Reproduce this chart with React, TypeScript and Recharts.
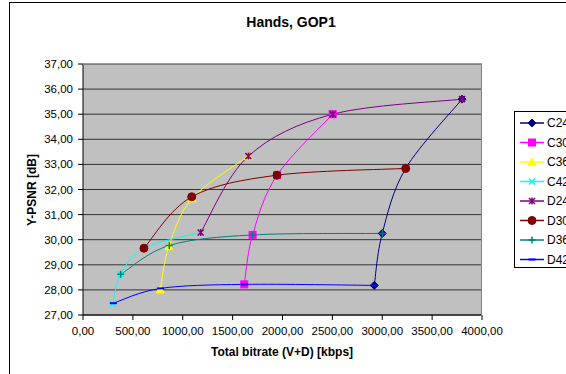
import React from "react";
import { LineChart, Line, XAxis, YAxis, CartesianGrid } from "recharts";

// rate (kbps) / Y-PSNR (dB) points
const C24 = [
  { x: 2920, y: 28.18 },
  { x: 3000, y: 30.25 },
  { x: 3235, y: 32.84 },
  { x: 3800, y: 35.6 },
];
const C30 = [
  { x: 1617, y: 28.22 },
  { x: 1700, y: 30.19 },
  { x: 1945, y: 32.57 },
  { x: 2503, y: 35.0 },
];
const C36 = [
  { x: 775, y: 28.02 },
  { x: 862, y: 29.74 },
  { x: 1095, y: 31.65 },
  { x: 1658, y: 33.33 },
];
const C42 = [
  { x: 298, y: 27.45 },
  { x: 378, y: 28.62 },
  { x: 611, y: 29.66 },
  { x: 1180, y: 30.29 },
];
const D24 = [
  { x: 1180, y: 30.29 },
  { x: 1658, y: 33.33 },
  { x: 2503, y: 35.0 },
  { x: 3800, y: 35.6 },
];
const D30 = [
  { x: 611, y: 29.66 },
  { x: 1090, y: 31.71 },
  { x: 1945, y: 32.57 },
  { x: 3235, y: 32.84 },
];
const D36 = [
  { x: 378, y: 28.62 },
  { x: 865, y: 29.77 },
  { x: 1700, y: 30.19 },
  { x: 3002, y: 30.25 },
];
const D42 = [
  { x: 304, y: 27.47 },
  { x: 779, y: 28.06 },
  { x: 1617, y: 28.22 },
  { x: 2920, y: 28.18 },
];

const X_TICKS = [0, 500, 1000, 1500, 2000, 2500, 3000, 3500, 4000];
const Y_TICKS = [27, 28, 29, 30, 31, 32, 33, 34, 35, 36, 37];

type Shape = "diamond" | "square" | "triangle" | "x" | "star" | "circle" | "plus" | "dash";

const SERIES: { name: string; data: { x: number; y: number }[]; color: string; shape: Shape }[] = [
  { name: "C24", data: C24, color: "#000080", shape: "diamond" },
  { name: "C30", data: C30, color: "#FF00FF", shape: "square" },
  { name: "C36", data: C36, color: "#FFFF00", shape: "triangle" },
  { name: "C42", data: C42, color: "#00FFFF", shape: "x" },
  { name: "D24", data: D24, color: "#800080", shape: "star" },
  { name: "D30", data: D30, color: "#800000", shape: "circle" },
  { name: "D36", data: D36, color: "#008080", shape: "plus" },
  { name: "D42", data: D42, color: "#0000FF", shape: "dash" },
];

const FONT = "'Liberation Sans', Arial, sans-serif";
const fmt = (v: number) => v.toFixed(2).replace(".", ",");

// Excel-like smoothed line: parametric Catmull-Rom through the points
const smoothCurve = (context: any) => {
  let pts: [number, number][] = [];
  return {
    areaStart() {},
    areaEnd() {},
    lineStart() {
      pts = [];
    },
    lineEnd() {
      if (!pts.length) return;
      context.moveTo(pts[0][0], pts[0][1]);
      for (let i = 0; i < pts.length - 1; i++) {
        const p0 = pts[Math.max(0, i - 1)];
        const p1 = pts[i];
        const p2 = pts[i + 1];
        const p3 = pts[Math.min(pts.length - 1, i + 2)];
        context.bezierCurveTo(
          p1[0] + (p2[0] - p0[0]) / 6,
          p1[1] + (p2[1] - p0[1]) / 6,
          p2[0] - (p3[0] - p1[0]) / 6,
          p2[1] - (p3[1] - p1[1]) / 6,
          p2[0],
          p2[1]
        );
      }
    },
    point(x: number, y: number) {
      pts.push([+x, +y]);
    },
  };
};

function marker(shape: Shape, color: string, cx: number, cy: number, key?: string) {
  switch (shape) {
    case "diamond":
      return (
        <polygon key={key} points={`${cx},${cy - 4} ${cx + 4},${cy} ${cx},${cy + 4} ${cx - 4},${cy}`} fill={color} stroke={color} />
      );
    case "square":
      return <rect key={key} x={cx - 3.5} y={cy - 3.5} width={7} height={7} fill={color} stroke={color} />;
    case "triangle":
      return (
        <polygon key={key} points={`${cx},${cy - 4} ${cx + 4},${cy + 3.5} ${cx - 4},${cy + 3.5}`} fill={color} stroke={color} />
      );
    case "x":
      return (
        <path key={key} d={`M${cx - 3},${cy - 3}L${cx + 3},${cy + 3}M${cx - 3},${cy + 3}L${cx + 3},${cy - 3}`} stroke={color} strokeWidth={1.5} fill="none" />
      );
    case "star":
      return (
        <path
          key={key}
          d={`M${cx - 3},${cy - 3}L${cx + 3},${cy + 3}M${cx - 3},${cy + 3}L${cx + 3},${cy - 3}M${cx},${cy - 3.5}L${cx},${cy + 3.5}`}
          stroke={color}
          strokeWidth={1.5}
          fill="none"
        />
      );
    case "circle":
      return <circle key={key} cx={cx} cy={cy} r={4} fill={color} stroke={color} />;
    case "plus":
      return (
        <path key={key} d={`M${cx - 3.5},${cy}L${cx + 3.5},${cy}M${cx},${cy - 3.5}L${cx},${cy + 3.5}`} stroke={color} strokeWidth={1.5} fill="none" />
      );
    case "dash":
    default:
      return <path key={key} d={`M${cx - 3.5},${cy}L${cx + 3.5},${cy}`} stroke={color} strokeWidth={2} fill="none" />;
  }
}

function LegendBox() {
  return (
    <div
      style={{
        position: "absolute",
        left: 514,
        top: 111,
        width: 80,
        height: 155,
        border: "1px solid #000",
        background: "#fff",
      }}
    >
      <svg width={80} height={155}>
        {SERIES.map((s, i) => {
          const cy = 11 + i * 19.5;
          return (
            <g key={s.name}>
              <line x1={5} x2={29} y1={cy} y2={cy} stroke={s.color} strokeWidth={1.5} />
              {marker(s.shape, s.color, 17, cy)}
              <text x={32} y={cy + 4} fontSize={12} fontFamily={FONT} fill="#000">
                {s.name}
              </text>
            </g>
          );
        })}
      </svg>
    </div>
  );
}

export default function App() {
  return (
    <div
      style={{
        position: "absolute",
        left: 0,
        top: 0,
        width: 566,
        height: 374,
        overflow: "hidden",
        background: "#fff",
        fontFamily: FONT,
      }}
    >
      <div
        style={{
          position: "absolute",
          left: 9,
          top: 2,
          width: 640,
          height: 390,
          border: "1px solid #000",
        }}
      />
      <div style={{ position: "absolute", left: 0, top: 0 }}>
        <LineChart width={620} height={374} margin={{ top: 64, right: 138, bottom: 29, left: 33 }}>
          <CartesianGrid horizontal vertical={false} fill="#C0C0C0" stroke="#333" strokeWidth={1} />
          <XAxis
            type="number"
            dataKey="x"
            domain={[0, 4000]}
            ticks={X_TICKS}
            allowDataOverflow
            tickFormatter={fmt}
            height={30}
            tickSize={5}
            tickMargin={7}
            stroke="#000"
            tick={{ fill: "#000", fontSize: 11.5, fontFamily: FONT }}
          />
          <YAxis
            type="number"
            domain={[27, 37]}
            ticks={Y_TICKS}
            allowDataOverflow
            tickFormatter={fmt}
            width={50}
            tickSize={5}
            tickMargin={5}
            stroke="#000"
            tick={{ fill: "#000", fontSize: 11.5, fontFamily: FONT }}
          />
          {SERIES.map((s) => (
            <Line
              key={s.name}
              data={s.data}
              dataKey="y"
              name={s.name}
              type={smoothCurve as any}
              stroke={s.color}
              strokeWidth={1}
              isAnimationActive={false}
              dot={(p: any) => marker(s.shape, s.color, p.cx, p.cy, `${s.name}-${p.index}`)}
              activeDot={false}
            />
          ))}
        </LineChart>
      </div>
      {/* plot border on top of the grid */}
      <div
        style={{
          position: "absolute",
          left: 83,
          top: 64,
          width: 398,
          height: 251,
          borderTop: "1px solid #808080",
          borderRight: "1px solid #808080",
          pointerEvents: "none",
        }}
      />
      <div
        style={{
          position: "absolute",
          left: 291,
          top: 14,
          transform: "translateX(-50%)",
          whiteSpace: "nowrap",
          fontWeight: "bold",
          fontSize: 14,
        }}
      >
        Hands, GOP1
      </div>
      <div
        style={{
          position: "absolute",
          left: 282,
          top: 345,
          transform: "translateX(-50%)",
          whiteSpace: "nowrap",
          fontWeight: "bold",
          fontSize: 12,
        }}
      >
        Total bitrate (V+D) [kbps]
      </div>
      <div
        style={{
          position: "absolute",
          left: 32,
          top: 190,
          transform: "translate(-50%, -50%) rotate(-90deg)",
          whiteSpace: "nowrap",
          fontWeight: "bold",
          fontSize: 12,
        }}
      >
        Y-PSNR [dB]
      </div>
      <LegendBox />
    </div>
  );
}
